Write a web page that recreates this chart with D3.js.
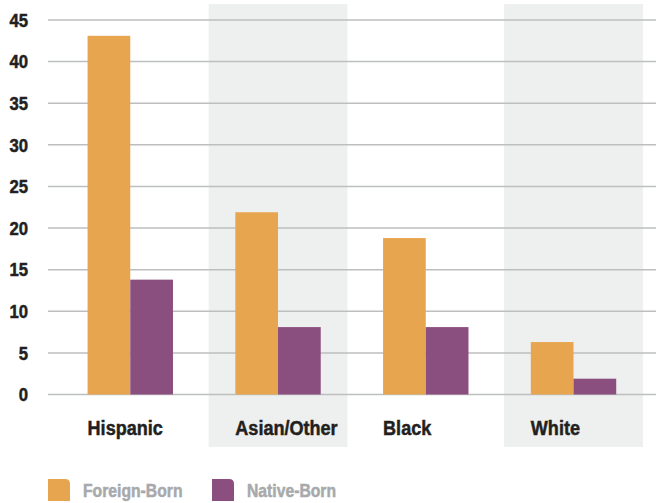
<!DOCTYPE html>
<html>
<head>
<meta charset="utf-8">
<script src="https://cdn.jsdelivr.net/npm/d3@7"></script>
<style>
  html, body { margin: 0; padding: 0; background: #ffffff; }
  svg { display: block; }
  text { font-family: "Liberation Sans", Arial, sans-serif; font-weight: bold; }
</style>
</head>
<body>
<script>
// Categories and series
const categories = ["Hispanic", "Asian/Other", "Black", "White"];
const seriesNames = ["Foreign-Born", "Native-Born"];
const foreignBorn = [43.1, 21.9, 18.8, 6.3];
const nativeBorn = [13.8, 8.1, 8.1, 1.9];
const yTicks = [0, 5, 10, 15, 20, 25, 30, 35, 40, 45];
const shadedCategories = ["Asian/Other", "White"];
const colors = ["#e8a54f", "#8a4f7e"];

const width = 656, height = 503;
const svg = d3.select("body").append("svg")
  .attr("width", width).attr("height", height);

const rows = categories.map((c, i) => ({ cat: c, values: [foreignBorn[i], nativeBorn[i]] }));

const x = d3.scaleBand().domain(categories).range([56.4, 647.4]).padding(0);
const xInner = d3.scaleBand().domain(seriesNames)
  .range([0, x.bandwidth()]).paddingOuter(0.73).paddingInner(0);
const y = d3.scaleLinear().domain([0, 45]).range([394.5, 20]);

// condensed heavy text: bold face squeezed horizontally, thickened with a thin stroke
function squeezed(sel, sx, color) {
  sel.attr("fill", color)
    .attr("stroke", color)
    .attr("stroke-width", 0.5)
    .attr("transform", function () {
      const tx = +this.getAttribute("data-x"), ty = +this.getAttribute("data-y");
      return `translate(${tx},${ty}) scale(${sx},1)`;
    });
}

// shaded category columns
const shadeW = x.bandwidth() * 0.94;
svg.append("g").selectAll("rect")
  .data(shadedCategories)
  .join("rect")
  .attr("x", d => x(d) + (x.bandwidth() - shadeW) / 2)
  .attr("y", 4)
  .attr("width", shadeW)
  .attr("height", 443)
  .attr("fill", "#eef0ef");

// gridlines
svg.append("g").selectAll("line")
  .data(yTicks)
  .join("line")
  .attr("x1", 48).attr("x2", width)
  .attr("y1", d => y(d)).attr("y2", d => y(d))
  .attr("stroke", "#bdbec0").attr("stroke-width", 1.5);

// y tick labels
svg.append("g").selectAll("text")
  .data(yTicks)
  .join("text")
  .attr("data-x", 28).attr("data-y", d => y(d) + 6.8)
  .attr("text-anchor", "end")
  .attr("font-size", 19)
  .text(d => d)
  .call(squeezed, 0.88, "#231f20");

// bars
const groups = svg.append("g").selectAll("g")
  .data(rows)
  .join("g")
  .attr("transform", d => `translate(${x(d.cat)},0)`);

groups.selectAll("rect")
  .data(d => d.values.map((v, i) => ({ key: seriesNames[i], v, i })))
  .join("rect")
  .attr("x", d => xInner(d.key))
  .attr("width", xInner.bandwidth())
  .attr("y", d => y(d.v))
  .attr("height", d => y(0) - y(d.v))
  .attr("fill", d => colors[d.i]);

// category labels, aligned with first bar of each group
svg.append("g").selectAll("text")
  .data(categories)
  .join("text")
  .attr("data-x", d => x(d) + xInner(seriesNames[0]))
  .attr("data-y", 435)
  .attr("font-size", 21)
  .text(d => d)
  .call(squeezed, 0.86, "#231f20");

// legend
const legendX = [48, 212];
const legend = svg.append("g").selectAll("g")
  .data(seriesNames)
  .join("g")
  .attr("transform", (d, i) => `translate(${legendX[i]},479)`);

const s = 22, r = 5;
legend.append("path")
  .attr("d", `M0,0 H${s - r} Q${s},0 ${s},${r} V${s} H0 Z`)
  .attr("fill", (d, i) => colors[i]);

legend.append("text")
  .attr("data-x", 35)
  .attr("data-y", 18)
  .attr("font-size", 18.5)
  .text(d => d)
  .call(squeezed, 0.85, "#a7a9ac");
</script>
</body>
</html>
